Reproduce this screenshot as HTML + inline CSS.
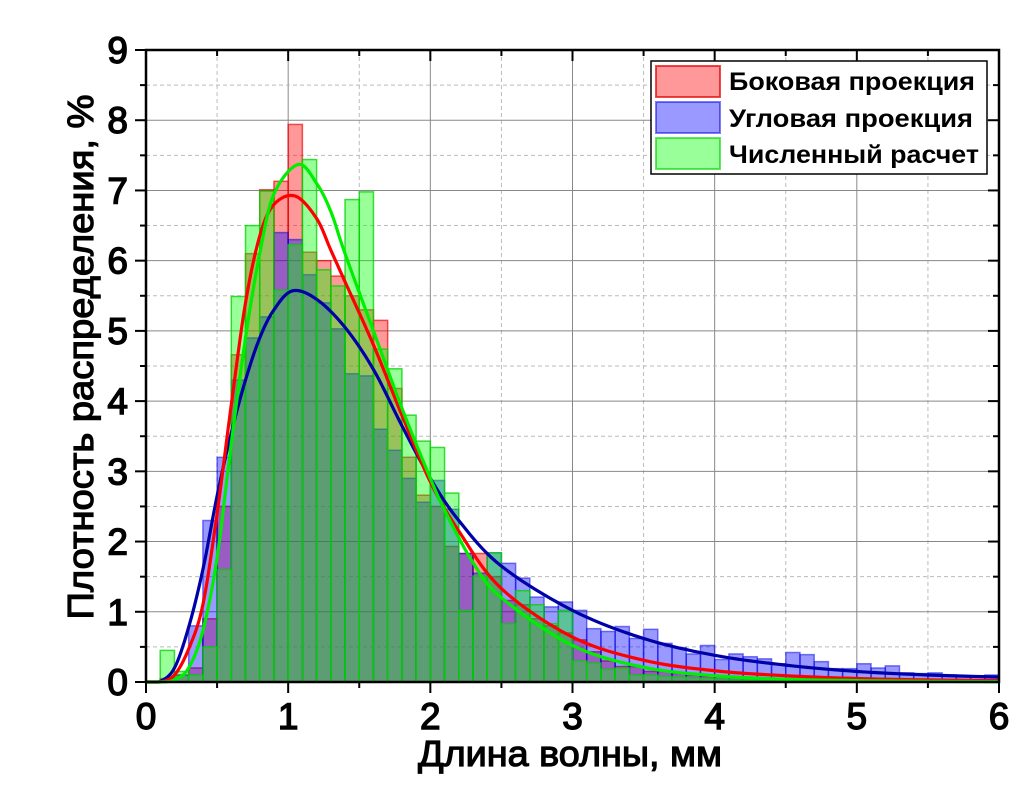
<!DOCTYPE html>
<html><head><meta charset="utf-8"><style>
html,body{margin:0;padding:0;background:#fff;}
svg{display:block;font-family:"Liberation Sans",Arial,sans-serif;}
</style></head><body>
<svg id="s" width="1025" height="785" viewBox="0 0 1025 785" xmlns="http://www.w3.org/2000/svg">
<rect width="1025" height="785" fill="#fff"/>
<g id="grid"></g>
<g id="bars"></g>
<g id="curves"></g>
<g id="axes"></g>
<g id="legend">
<rect x="651" y="61" width="336" height="113" fill="#fff" stroke="#000" stroke-width="1.5"/>
<rect x="656" y="66" width="64" height="31" fill="rgba(255,0,0,0.4)" stroke="rgba(230,0,0,0.7)" stroke-width="2"/>
<rect x="656" y="102" width="64" height="31" fill="rgba(0,0,255,0.4)" stroke="rgba(0,0,230,0.5)" stroke-width="2"/>
<rect x="656" y="138" width="64" height="31" fill="rgba(0,255,0,0.4)" stroke="rgba(0,210,0,0.6)" stroke-width="2"/>
<text x="729" y="90" font-size="25" font-weight="bold" textLength="246" lengthAdjust="spacingAndGlyphs">Боковая проекция</text>
<text x="729" y="127" font-size="25" font-weight="bold" textLength="244" lengthAdjust="spacingAndGlyphs">Угловая проекция</text>
<text x="729" y="163" font-size="25" font-weight="bold" textLength="250" lengthAdjust="spacingAndGlyphs">Численный расчет</text>
</g>
</svg>
<script>
var X0=146,X1=999,Y0=682,Y1=50;
function px(x){return X0+(X1-X0)*x/6;}
function py(y){return Y0-(Y0-Y1)*y/9;}
var NS="http://www.w3.org/2000/svg";
function el(p,t,a,txt){var e=document.createElementNS(NS,t);for(var k in a)e.setAttribute(k,a[k]);if(txt!==undefined)e.textContent=txt;p.appendChild(e);return e;}
var g=document.getElementById('grid');
for(var i=0;i<=12;i++){var x=px(i*0.5);
 el(g,'line',{x1:x,x2:x,y1:Y1,y2:Y0,stroke:i%2?'#bbb':'#888','stroke-width':1,'stroke-dasharray':i%2?'4,3':''});}
for(var i=0;i<=18;i++){var y=py(i*0.5);
 el(g,'line',{x1:X0,x2:X1,y1:y,y2:y,stroke:i%2?'#bbb':'#888','stroke-width':1,'stroke-dasharray':i%2?'4,3':''});}
var red=[0,0.05,0.1,0.2,0.9,2.5,4.66,6.1,7.01,7.13,7.94,6.12,6.0,5.78,5.5,5.3,5.15,4.18,3.2,2.66,2.5,1.93,1.83,1.83,1.5,1.16,1.1,0.9,0.8,0.7,0.6,0.43,0.3,0.22,0.22,0.15,0.15,0.12,0.1,0.08,0.08,0.07,0.06,0.06,0.05,0.05,0.05,0.04,0.04,0.04,0.03,0.03,0.03,0.03,0.02,0.02,0.02,0.02,0.02,0.02];
var blue=[0,0,0.1,0.8,2.3,3.2,4.3,4.9,5.2,6.4,6.3,5.8,5.4,5.03,4.39,4.36,3.6,3.3,2.9,2.56,2.87,2.46,1.83,1.55,1.84,1.69,1.48,1.21,1.07,1.14,1.02,0.76,0.72,0.79,0.62,0.75,0.55,0.49,0.40,0.52,0.32,0.40,0.36,0.33,0.26,0.42,0.39,0.29,0.19,0.19,0.26,0.20,0.23,0.13,0.12,0.13,0.10,0.09,0.07,0.10];
var green=[0,0.45,0.15,0.1,0.5,1.6,5.49,6.5,6.99,5.58,6.23,7.44,5.87,5.64,6.87,6.98,4.74,4.46,3.8,3.43,3.34,2.69,1.02,1.51,1.84,0.83,1.3,1.1,0.83,1.02,0.3,0.27,0.18,0.2,0.1,0.1,0.08,0.07,0.06,0.05,0.04,0.03,0.03,0.02,0.02,0.02,0.02,0.01,0.01,0.01,0.01,0.01,0.01,0.01,0.01,0.01,0.01,0.01,0.01,0.01];
var b=document.getElementById('bars');
function hist(arr,fill,stroke){for(var i=0;i<arr.length;i++){if(arr[i]<=0)continue;var xa=px(i*0.1),xb=px(i*0.1+0.1),y=py(arr[i]);
 el(b,'rect',{x:xa,y:y,width:xb-xa,height:Y0-y,fill:fill,stroke:stroke,'stroke-width':1.5});}}
hist(red,'rgba(255,0,0,0.4)','rgba(230,0,0,0.65)');
hist(blue,'rgba(0,0,255,0.4)','rgba(0,0,230,0.5)');
hist(green,'rgba(0,255,0,0.4)','rgba(0,210,0,0.75)');
function spline(pts){var d='M'+px(pts[0][0])+','+py(pts[0][1]);
 for(var i=0;i<pts.length-1;i++){var p0=pts[Math.max(i-1,0)],p1=pts[i],p2=pts[i+1],p3=pts[Math.min(i+2,pts.length-1)];
  for(var t=0.1;t<=1.0001;t+=0.1){var t2=t*t,t3=t2*t;
   var f=function(a,b,c,e){return 0.5*((2*b)+(-a+c)*t+(2*a-5*b+4*c-e)*t2+(-a+3*b-3*c+e)*t3);};
   var xx=f(p0[0],p1[0],p2[0],p3[0]),yy=Math.max(0,f(p0[1],p1[1],p2[1],p3[1]));
   d+=' L'+px(xx).toFixed(2)+','+py(yy).toFixed(2);}}
 return d;}
var cb=[[0,0],[0.1,0.01],[0.2,0.2],[0.3,0.78],[0.4,1.6],[0.5,2.65],[0.6,3.55],[0.7,4.3],[0.8,4.9],[0.9,5.3],[1.03,5.57],[1.2,5.45],[1.4,5.05],[1.6,4.45],[1.8,3.65],[2.0,2.9],[2.2,2.3],[2.5,1.65],[3.0,1.02],[3.5,0.62],[4.0,0.38],[4.5,0.24],[5.0,0.15],[5.5,0.1],[6,0.07]];
var cr=[[0,0],[0.1,0.0],[0.2,0.1],[0.3,0.47],[0.4,1.1],[0.5,2.4],[0.6,3.95],[0.7,5.4],[0.8,6.35],[0.9,6.8],[1.05,6.92],[1.2,6.6],[1.3,6.15],[1.4,5.7],[1.6,4.8],[1.8,3.8],[2.0,2.85],[2.2,2.15],[2.5,1.33],[3.0,0.64],[3.5,0.31],[4.0,0.16],[4.5,0.09],[5.0,0.05],[5.5,0.03],[6,0.02]];
var cg=[[0,0],[0.1,0.0],[0.2,0.03],[0.3,0.2],[0.4,0.73],[0.5,1.77],[0.6,3.4],[0.7,4.9],[0.8,6.1],[0.9,6.95],[1.07,7.37],[1.2,7.1],[1.3,6.7],[1.4,6.1],[1.6,5.0],[1.8,3.9],[2.0,2.9],[2.1,2.45],[2.3,1.7],[2.5,1.2],[3.0,0.52],[3.5,0.21],[4.0,0.09],[4.5,0.04],[5.0,0.02],[5.5,0.01],[6,0.005]];
var c=document.getElementById('curves');
el(c,'path',{d:spline(cb),fill:'none',stroke:'#0000a8','stroke-width':3.2});
el(c,'path',{d:spline(cr),fill:'none',stroke:'#ff0000','stroke-width':3.2});
el(c,'path',{d:spline(cg),fill:'none',stroke:'#00ee00','stroke-width':3.2});
var a=document.getElementById('axes');
el(a,'rect',{x:X0,y:Y1,width:X1-X0,height:Y0-Y1,fill:'none',stroke:'#000','stroke-width':2.5});
for(var i=0;i<=12;i++){var x=px(i*0.5),L=i%2?6:11;
 el(a,'line',{x1:x,x2:x,y1:Y0,y2:Y0+L,stroke:'#000','stroke-width':2});
 el(a,'line',{x1:x,x2:x,y1:Y1,y2:Y1+L,stroke:'#000','stroke-width':2});
 if(i%2==0)el(a,'text',{x:x,y:729,'font-size':37,'stroke':'#000','stroke-width':1.4,'text-anchor':'middle'},String(i/2));}
for(var i=0;i<=18;i++){var y=py(i*0.5),L=i%2?6:11;
 el(a,'line',{x1:X0-L,x2:X0,y1:y,y2:y,stroke:'#000','stroke-width':2});
 el(a,'line',{x1:X1-L,x2:X1,y1:y,y2:y,stroke:'#000','stroke-width':2});
 if(i%2==0)el(a,'text',{x:128,y:y+13,'font-size':37,'stroke':'#000','stroke-width':1.4,'text-anchor':'end'},String(i/2));}
el(a,'text',{x:570,y:766,'font-size':36,'stroke':'#000','stroke-width':1.2,'text-anchor':'middle',textLength:304,lengthAdjust:'spacingAndGlyphs'},'Длина волны, мм');
el(a,'text',{x:0,y:0,'font-size':36,'stroke':'#000','stroke-width':1.2,'text-anchor':'middle',textLength:525,lengthAdjust:'spacingAndGlyphs',transform:'translate(93,357) rotate(-90)'},'Плотность распределения, %');
</script>
</body></html>
